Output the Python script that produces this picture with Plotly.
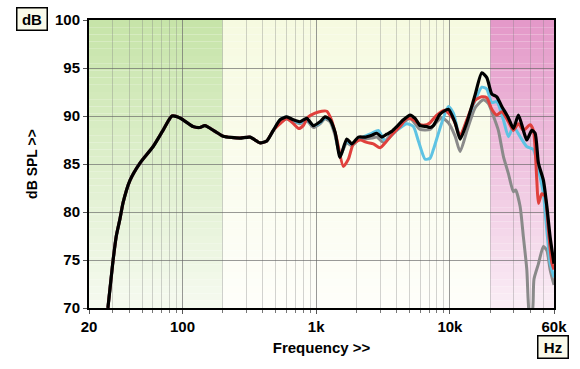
import numpy as np
import plotly.graph_objects as go

# ---------------- data ----------------
common_f = [27.7, 30, 32, 34.1, 36, 40.5, 48.1, 60.2, 71.5, 83.5, 95.9, 120, 135, 147, 175, 201, 269, 320, 380, 427, 478]
common_db = [70, 74.5, 77.5, 79.3, 81.0, 83.3, 85.1, 86.8, 88.5, 90.0, 89.8, 88.9, 88.8, 89.0, 88.4, 87.9, 87.7, 87.8, 87.2, 87.4, 88.5]

black_f = [537, 602, 675, 757, 850, 952, 1069, 1165, 1269, 1384, 1508, 1692, 1844, 2066, 2320, 2604, 2838, 3092, 3370, 3672,
           4004, 4486, 5034, 5488, 5980, 6712, 7104, 7520, 8440, 9738, 10930, 11912, 13366, 15420, 17312, 18864, 20560, 22400,
           24420, 27370, 29830, 32500, 35420, 37570, 40940, 43340, 45880, 50000, 53030, 56110, 59400, 60000]
black_db = [89.6, 89.9, 89.6, 89.4, 89.75, 89.0, 89.4, 89.9, 89.6, 88.3, 85.7, 87.6, 87.1, 87.8, 87.8, 88.0, 88.2, 87.8, 88.1, 88.4,
            88.9, 89.6, 90.1, 89.75, 89.0, 88.9, 88.8, 89.0, 90.2, 90.7, 89.3, 87.6, 89.3, 92.2, 94.5, 94.0, 92.3, 92.0,
            91.0, 89.8, 88.7, 90.1, 88.5, 87.5, 88.5, 88.2, 85.1, 83.3, 80.6, 77.4, 75.0, 74.6]

red_f = [537, 602, 675, 740, 800, 870, 980, 1100, 1200, 1300, 1425, 1596, 1740, 1896, 2128, 2388, 2676, 3004, 3370, 3776,
         4238, 4756, 5330, 5980, 6712, 7104, 7974, 9200, 10614, 11912, 13366, 15420, 17312, 18864, 20560, 22400, 24420,
         27370, 29830, 32500, 35420, 39770, 42080, 44630, 45880, 48640, 51480, 54500, 57770, 60000]
red_db = [89.2, 89.75, 89.2, 88.7, 89.0, 89.9, 90.3, 90.5, 90.5, 89.6, 87.6, 84.75, 85.5, 87.1, 87.5, 87.25, 87.1, 86.7, 87.4, 88.2,
          88.9, 89.75, 89.6, 89.1, 89.1, 89.3, 90.1, 90.6, 89.65, 87.95, 89.6, 91.65, 92.0, 91.9, 90.7, 90.1, 90.45,
          89.4, 88.5, 89.2, 88.5, 89.1, 88.5, 83.3, 80.9, 81.9, 81.6, 78.1, 74.7, 74.0]

blue_f = [537, 602, 675, 757, 850, 952, 1069, 1165, 1269, 1384, 1508, 1692, 1844, 2066, 2320, 2604, 2916, 3272, 3672, 4004,
          4756, 5330, 5808, 6520, 7104, 7520, 8690, 9738, 10614, 11912, 13366, 15420, 17312, 18864, 20560, 22400, 25100,
          27370, 29830, 33460, 37570, 42080, 45880, 50000, 53030, 56110, 60000]
blue_db = [89.6, 89.9, 89.5, 89.3, 89.6, 89.0, 89.3, 89.8, 89.6, 88.2, 85.9, 87.4, 87.0, 87.6, 87.9, 88.2, 88.5, 87.4, 88.0, 88.5,
           89.2, 88.9, 87.4, 85.5, 85.6, 86.5, 89.3, 91.0, 90.3, 87.8, 89.5, 91.6, 93.0, 92.8, 91.4, 91.5, 89.6,
           87.85, 88.9, 87.85, 86.8, 86.5, 84.4, 81.9, 78.1, 74.7, 73.2]

gray_f = [537, 602, 675, 757, 850, 952, 1069, 1165, 1269, 1384, 1508, 1692, 1844, 2066, 2320, 2604, 2838, 3178, 3672, 4004,
          5034, 5980, 7104, 7520, 8690, 9738, 10930, 11912, 13366, 15420, 17790, 19392, 21132, 23020, 25100, 27370, 29830,
          31000, 33460, 35420, 37570, 38400, 39500, 40500, 41860, 42500, 45880, 50000, 53030, 56110, 60000]
gray_db = [89.4, 89.7, 89.4, 89.2, 89.5, 88.8, 89.2, 89.7, 89.4, 88.0, 85.9, 87.2, 86.9, 87.5, 87.6, 87.7, 87.8, 87.25, 88.2, 88.7,
           89.75, 88.6, 88.6, 89.0, 89.8, 89.3, 87.9, 86.3, 88.4, 90.85, 91.7, 91.3, 90.0, 88.5, 85.8, 84.0, 82.1,
           82.3, 80.6, 77.4, 74.0, 71.0, 68.5, 68.0, 70.5, 73.0, 74.6, 76.4, 76.0, 74.0, 72.4]

x_ticks = [20, 100, 1000, 10000, 60000]
x_tick_labels = ["20", "100", "1k", "10k", "60k"]
x_minor = [30, 40, 50, 60, 70, 80, 90, 200, 300, 400, 500, 600, 700, 800, 900,
           2000, 3000, 4000, 5000, 6000, 7000, 8000, 9000, 20000, 30000, 40000, 50000]

band_edges = [20, 200, 20000, 60000]
band_top = [(198, 228, 168), (246, 250, 224), (228, 152, 200)]
band_bottom = [(246, 250, 240), (254, 254, 250), (250, 238, 246)]

X_MIN, X_MAX = 20, 60000
Y_MIN, Y_MAX = 70, 100

# ---------------- figure ----------------
fig = go.Figure()

series = [
    (gray_f, gray_db, "#8a8a8a", 3),
    (blue_f, blue_db, "#5ec3e3", 3),
    (red_f, red_db, "#e0403c", 3),
    (black_f, black_db, "#000000", 3.2),
]
for f_arr, d_arr, col, w in series:
    fig.add_trace(go.Scatter(
        x=common_f + f_arr, y=common_db + d_arr, mode="lines",
        line=dict(color=col, width=w, shape="spline", smoothing=0.6),
        hoverinfo="skip", showlegend=False))

# background gradient bands (paper coords in x)
lx0, lx1 = np.log10(X_MIN), np.log10(X_MAX)
def xp(f):
    return (np.log10(f) - lx0) / (lx1 - lx0)

shapes = []
n = 40
for b in range(3):
    x0, x1 = xp(band_edges[b]), xp(band_edges[b + 1])
    for i in range(n):
        t = (i + 0.5) / n
        c = [int(round(band_bottom[b][k] + (band_top[b][k] - band_bottom[b][k]) * t)) for k in range(3)]
        y0 = Y_MIN + (Y_MAX - Y_MIN) * i / n
        y1 = Y_MIN + (Y_MAX - Y_MIN) * (i + 1) / n
        shapes.append(dict(type="rect", xref="paper", yref="y", x0=x0, x1=x1, y0=y0, y1=y1,
                           fillcolor="rgb(%d,%d,%d)" % tuple(c), line=dict(width=0), layer="below"))

font_main = "Liberation Sans, Arial, sans-serif"

fig.update_layout(
    width=580, height=369,
    margin=dict(l=89, r=26, t=20, b=61),
    paper_bgcolor="white", plot_bgcolor="white",
    shapes=shapes,
    font=dict(family=font_main, color="black"),
    xaxis=dict(
        type="log", range=[lx0, lx1],
        tickvals=x_ticks, ticktext=x_tick_labels,
        tickfont=dict(size=15, family=font_main, weight="bold"),
        ticks="outside", ticklen=4, tickcolor="#555",
        showgrid=True, gridcolor="rgba(110,110,110,0.7)", gridwidth=1,
        minor=dict(tickvals=x_minor, showgrid=True, gridcolor="rgba(130,130,130,0.35)", gridwidth=1,
                   ticks="outside", ticklen=3, tickcolor="#777"),
        showline=True, linecolor="black", linewidth=2, mirror=True,
        zeroline=False,
        title=dict(text="<b>Frequency &gt;&gt;</b>", font=dict(size=15, family=font_main), standoff=8),
    ),
    yaxis=dict(
        range=[Y_MIN, Y_MAX], dtick=5, tick0=70,
        tickfont=dict(size=15, family=font_main, weight="bold"),
        ticks="outside", ticklen=4, tickcolor="#555",
        showgrid=True, gridcolor="rgba(100,100,100,0.65)", gridwidth=1,
        showline=True, linecolor="black", linewidth=2, mirror=True,
        zeroline=False,
        title=dict(text="<b>dB SPL &gt;&gt;</b>", font=dict(size=14, family=font_main), standoff=14),
    ),
    annotations=[
        dict(text="<b>dB</b>", xref="paper", yref="paper", x=-0.157, y=1.0, xanchor="left", yanchor="bottom",
             showarrow=False, font=dict(size=15, family=font_main), bgcolor="#fafaea",
             width=25, height=17, align="center", valign="middle",
             bordercolor="black", borderwidth=1.5, borderpad=2, yshift=-11),
        dict(text="<b>Hz</b>", xref="paper", yref="paper", x=1.0, y=0, xanchor="center", yanchor="top",
             showarrow=False, font=dict(size=15, family=font_main), bgcolor="#fafaea",
             width=25, height=17, align="center", valign="middle",
             bordercolor="black", borderwidth=1.5, borderpad=2, xshift=-1, yshift=-27),
    ],
)

fig.write_html("out.html", config={"displayModeBar": False, "staticPlot": True},
               post_script="document.body.style.margin='0';document.body.style.padding='0';")
